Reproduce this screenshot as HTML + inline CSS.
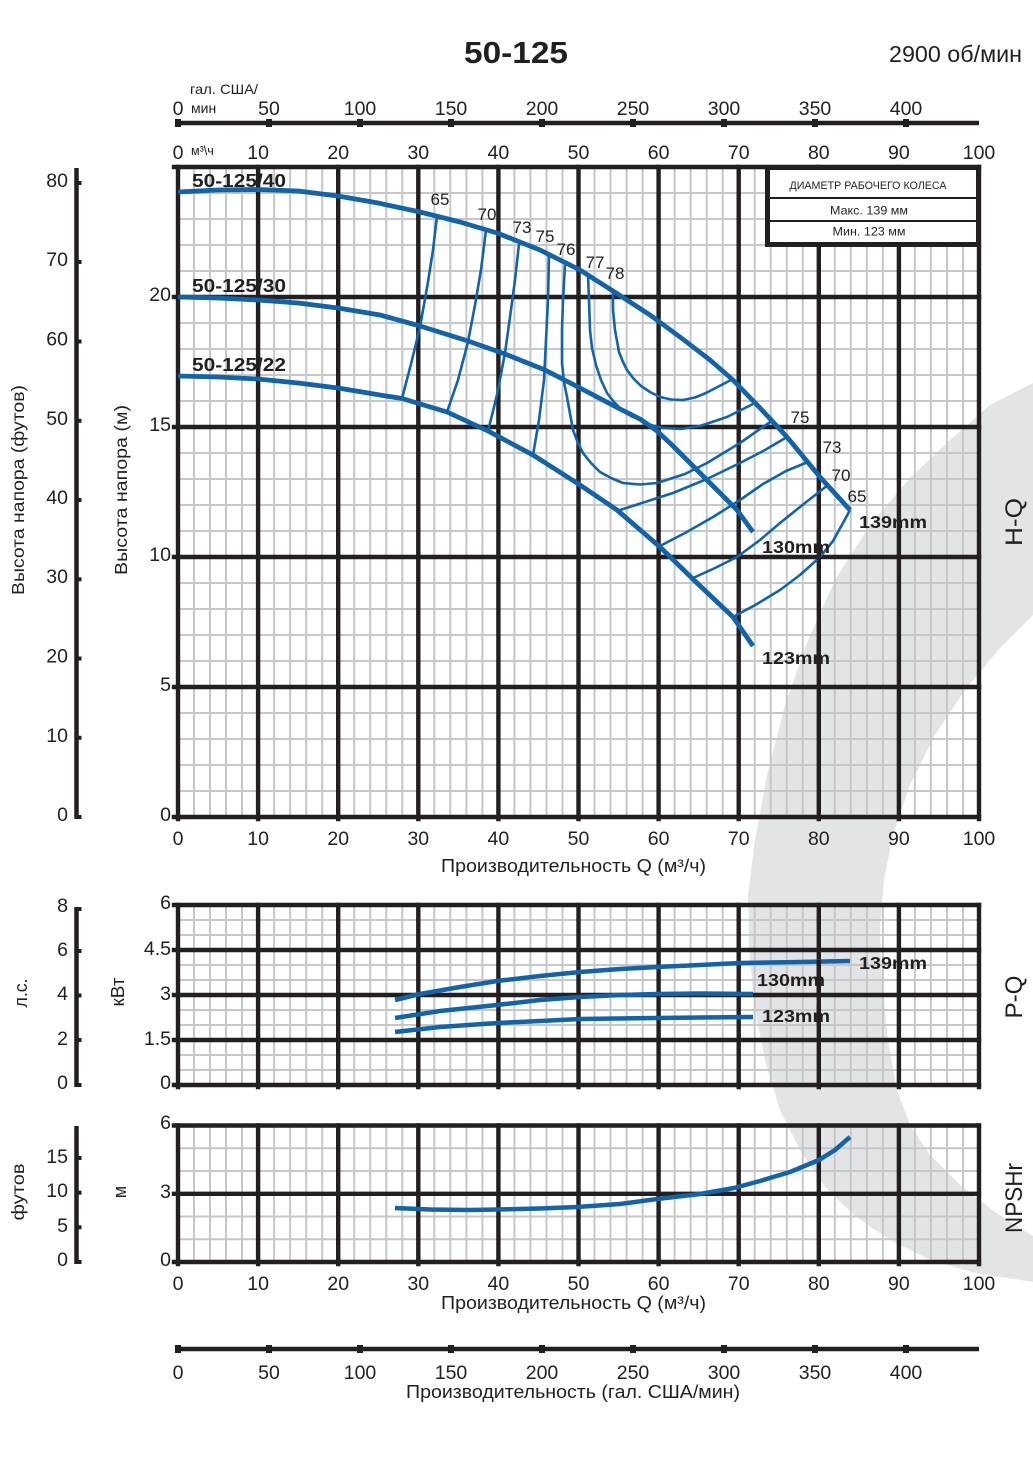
<!DOCTYPE html>
<html><head><meta charset="utf-8">
<style>
html,body{margin:0;padding:0;background:#fff}
svg{display:block}
text{font-family:"Liberation Sans","DejaVu Sans",sans-serif;fill:#231f20}
</style></head>
<body>
<svg width="1033" height="1461" viewBox="0 0 1033 1461" xmlns="http://www.w3.org/2000/svg">
<rect width="1033" height="1461" fill="#fff"/>

<!-- watermark crescent -->
<path fill="#e3e4e6" d="M1033 383 L990 405 L950 440 L910 478 L870 525 L835 580 L808 640 L785 705 L767 775 L755 840 L748 895 L749 950 L755 1010 L765 1060 L780 1110 L800 1150 L825 1187 L855 1216 L890 1240 L930 1260 L975 1273 L1033 1282 L1033 1236 L995 1212 L960 1185 L930 1155 L910 1125 L897 1090 L888 1040 L882 980 L880 930 L884 880 L893 835 L910 785 L935 735 L965 690 L1000 648 L1033 615 Z"/>

<!-- ===== minor grids ===== -->
<g stroke="#c6c7c8" stroke-width="2" fill="none">
<path d="M194 167v650M210 167v650M226 167v650M242 167v650M274.1 167v650M290.1 167v650M306.2 167v650M322.2 167v650M354.2 167v650M370.2 167v650M386.3 167v650M402.3 167v650M434.3 167v650M450.3 167v650M466.4 167v650M482.4 167v650M514.4 167v650M530.4 167v650M546.5 167v650M562.5 167v650M594.5 167v650M610.5 167v650M626.6 167v650M642.6 167v650M674.6 167v650M690.6 167v650M706.7 167v650M722.7 167v650M754.7 167v650M770.7 167v650M786.8 167v650M802.8 167v650M834.8 167v650M850.8 167v650M866.9 167v650M882.9 167v650M914.9 167v650M930.9 167v650M947 167v650M963 167v650"/>
<path d="M178 791h801M178 765h801M178 739h801M178 713h801M178 661h801M178 635h801M178 609h801M178 583h801M178 531h801M178 505h801M178 479h801M178 453h801M178 401h801M178 375h801M178 349h801M178 323h801M178 271h801M178 245h801M178 219h801M178 193h801"/>
<path d="M194 905v180M210 905v180M226 905v180M242 905v180M274.1 905v180M290.1 905v180M306.2 905v180M322.2 905v180M354.2 905v180M370.2 905v180M386.3 905v180M402.3 905v180M434.3 905v180M450.3 905v180M466.4 905v180M482.4 905v180M514.4 905v180M530.4 905v180M546.5 905v180M562.5 905v180M594.5 905v180M610.5 905v180M626.6 905v180M642.6 905v180M674.6 905v180M690.6 905v180M706.7 905v180M722.7 905v180M754.7 905v180M770.7 905v180M786.8 905v180M802.8 905v180M834.8 905v180M850.8 905v180M866.9 905v180M882.9 905v180M914.9 905v180M930.9 905v180M947 905v180M963 905v180"/>
<path d="M178 920h801M178 935h801M178 965h801M178 980h801M178 1010h801M178 1025h801M178 1055h801M178 1070h801"/>
<path d="M194 1125.5v136.5M210 1125.5v136.5M226 1125.5v136.5M242 1125.5v136.5M274.1 1125.5v136.5M290.1 1125.5v136.5M306.2 1125.5v136.5M322.2 1125.5v136.5M354.2 1125.5v136.5M370.2 1125.5v136.5M386.3 1125.5v136.5M402.3 1125.5v136.5M434.3 1125.5v136.5M450.3 1125.5v136.5M466.4 1125.5v136.5M482.4 1125.5v136.5M514.4 1125.5v136.5M530.4 1125.5v136.5M546.5 1125.5v136.5M562.5 1125.5v136.5M594.5 1125.5v136.5M610.5 1125.5v136.5M626.6 1125.5v136.5M642.6 1125.5v136.5M674.6 1125.5v136.5M690.6 1125.5v136.5M706.7 1125.5v136.5M722.7 1125.5v136.5M754.7 1125.5v136.5M770.7 1125.5v136.5M786.8 1125.5v136.5M802.8 1125.5v136.5M834.8 1125.5v136.5M850.8 1125.5v136.5M866.9 1125.5v136.5M882.9 1125.5v136.5M914.9 1125.5v136.5M930.9 1125.5v136.5M947 1125.5v136.5M963 1125.5v136.5"/>
<path d="M178 1148.3h801M178 1171h801M178 1216.5h801M178 1239.3h801"/>
</g>

<!-- ===== major grids ===== -->
<g stroke="#231f20" stroke-width="4.4" fill="none" stroke-linecap="square">
<path d="M178 167V819M258.1 167V819M338.2 167V819M418.3 167V819M498.4 167V819M578.5 167V819M658.6 167V819M738.7 167V819M818.8 167V819M898.9 167V819M979 167V819"/>
<path d="M174 167H979M174 297H979M174 427H979M174 557H979M174 687H979M174 817H979"/>
<path d="M178 905V1087M258.1 905V1087M338.2 905V1087M418.3 905V1087M498.4 905V1087M578.5 905V1087M658.6 905V1087M738.7 905V1087M818.8 905V1087M898.9 905V1087M979 905V1087"/>
<path d="M174 905H979M174 950H979M174 995H979M174 1040H979M174 1085H979"/>
<path d="M178 1125.5V1264M258.1 1125.5V1264M338.2 1125.5V1264M418.3 1125.5V1264M498.4 1125.5V1264M578.5 1125.5V1264M658.6 1125.5V1264M738.7 1125.5V1264M818.8 1125.5V1264M898.9 1125.5V1264M979 1125.5V1264"/>
<path d="M174 1125.5H979M174 1193.8H979M174 1262H979"/>
</g>

<!-- left axes (feet, hp, feet) -->
<g stroke="#231f20" stroke-width="4.5" fill="none">
<path d="M76.5 168V819M76.5 907V1087M76.5 1126V1264"/>
</g>
<g fill="#231f20">
<rect x="76" y="181" width="5.5" height="4"/><rect x="76" y="260" width="5.5" height="4"/><rect x="76" y="339.5" width="5.5" height="4"/><rect x="76" y="418.8" width="5.5" height="4"/><rect x="76" y="498" width="5.5" height="4"/><rect x="76" y="577.3" width="5.5" height="4"/><rect x="76" y="656.5" width="5.5" height="4"/><rect x="76" y="735.8" width="5.5" height="4"/><rect x="76" y="815" width="5.5" height="4"/>
<rect x="76" y="907" width="5.5" height="4"/><rect x="76" y="949" width="5.5" height="4"/><rect x="76" y="993.5" width="5.5" height="4"/><rect x="76" y="1038" width="5.5" height="4"/><rect x="76" y="1083" width="5.5" height="4"/>
<rect x="76" y="1156" width="5.5" height="4"/><rect x="76" y="1190.7" width="5.5" height="4"/><rect x="76" y="1225.3" width="5.5" height="4"/><rect x="76" y="1260" width="5.5" height="4"/>
</g>

<!-- gallon axes -->
<g stroke="#231f20" stroke-width="4.4"><path d="M176 123H979M176 1349H979"/></g>
<g fill="#231f20">
<rect x="175" y="119" width="6" height="8"/><rect x="266" y="119" width="6" height="8"/><rect x="357" y="119" width="6" height="8"/><rect x="448" y="119" width="6" height="8"/><rect x="539" y="119" width="6" height="8"/><rect x="630" y="119" width="6" height="8"/><rect x="721" y="119" width="6" height="8"/><rect x="812" y="119" width="6" height="8"/><rect x="903" y="119" width="6" height="8"/>
<rect x="175" y="1345" width="6" height="8"/><rect x="266" y="1345" width="6" height="8"/><rect x="357" y="1345" width="6" height="8"/><rect x="448" y="1345" width="6" height="8"/><rect x="539" y="1345" width="6" height="8"/><rect x="630" y="1345" width="6" height="8"/><rect x="721" y="1345" width="6" height="8"/><rect x="812" y="1345" width="6" height="8"/><rect x="903" y="1345" width="6" height="8"/>
</g>

<!-- ===== H-Q curves ===== -->
<g fill="none" stroke="#1263a8" stroke-linejoin="round">
<g stroke-width="2.6">
<path d="M437 216 L433 250 L428 282 L420 327 L411 364 L402 398.5"/>
<path d="M486 230 L481 270 L475 305 L468 342 L458 380 L447 412"/>
<path d="M519 244 L515 280 L510 317 L505 353 L497 395 L488 431"/>
<path d="M549 256 L548 300 L546 340 L544 380 L539 420 L533 455"/>
<path d="M565 265 L563 300 L562 330 L562 363 L564 382 L567 397 L573 430 L578 443 L583 453 L591 463 L600 472 L611 478 L623 483 L640 484.5 L657 483 L685 474 L707 463 L740 443 L773 420"/>
<path d="M588 276 L589 300 L590 330 L592 348 L596 365 L601 380 L607 393 L614 402 L622 410 L631 416 L640 420 L651 425 L663 428 L681 429 L700 426 L727 417 L753 404"/>
<path d="M613 291 L613 310 L615 330 L619 352 L623 362 L627 370 L633 378 L641 386 L650 392 L660 397 L671 399.5 L683 400 L695 397.5 L706 393 L731 380"/>
<path d="M617 511 L645 502 L673 493 L707 479 L740 463 L765 450 L787 437"/>
<path d="M658 547 L685 533 L713 517 L740 500 L763 484 L786 471 L808 462"/>
<path d="M693 578 L715 568 L737 557 L760 540 L780 523 L805 503 L828 485"/>
<path d="M733 617 L757 604 L780 590 L800 575 L820 557 L833 541 L843 523 L850 510"/>
</g>
<g stroke-width="4.8">
<path d="M178 192 L218 190 L258 189.5 L298 191 L338 196 L378 203 L420 212 L460 222 L497 233 L540 250 L580 270 L613 291 L650 315 L680 337 L710 360 L733 380 L760 408 L787 437 L820 477 L850 510"/>
<path d="M178 297 L218 298 L258 300 L298 303 L338 308 L380 315 L420 326 L468 341 L505 354 L545 370 L580 388 L620 409 L640 419 L657 431 L672 445 L697 470 L717 490 L737 510 L753 532"/>
<path d="M178 376 L218 377 L258 379 L298 383 L338 388 L380 395 L402 398.5 L447 412 L488 431 L533 455 L580 485 L617 510 L660 547 L697 583 L733 617 L753 646"/>
</g>
</g>

<!-- P-Q curves -->
<g fill="none" stroke="#1263a8" stroke-width="4.5" stroke-linejoin="round">
<path d="M395 1000 L420 994 L460 987 L497 981 L540 976 L580 972 L620 969 L657 967 L700 965 L740 963 L800 962 L850 961"/>
<path d="M395 1018 L440 1011 L497 1005 L540 1000 L580 997 L620 995 L657 994 L700 993.5 L753 994"/>
<path d="M395 1032 L440 1027 L497 1023 L540 1021 L580 1019 L657 1018 L700 1017.5 L753 1017"/>
<!-- NPSH -->
<path d="M395 1208 L430 1209.5 L470 1210 L497 1209.5 L540 1208.5 L577 1207 L620 1204 L657 1199 L700 1194 L734 1188 L760 1181 L790 1172 L819 1160 L835 1150 L850 1137"/>
</g>

<!-- legend box -->
<rect x="767.5" y="167.5" width="211" height="77" fill="#fff" stroke="#231f20" stroke-width="5"/>
<path d="M770 198H976M770 221H976" stroke="#231f20" stroke-width="2"/>
<text x="868" y="189" text-anchor="middle" font-size="11" textLength="157" lengthAdjust="spacingAndGlyphs">ДИАМЕТР РАБОЧЕГО КОЛЕСА</text>
<text x="869" y="214.5" text-anchor="middle" font-size="12" textLength="78" lengthAdjust="spacingAndGlyphs">Макс. 139 мм</text>
<text x="869" y="235.5" text-anchor="middle" font-size="12" textLength="73" lengthAdjust="spacingAndGlyphs">Мин. 123 мм</text>

<!-- title -->
<text x="516" y="63" text-anchor="middle" font-size="31" font-weight="bold" textLength="104" lengthAdjust="spacingAndGlyphs">50-125</text>
<text x="889" y="62" font-size="23" textLength="133" lengthAdjust="spacingAndGlyphs">2900 об/мин</text>

<!-- top axis labels -->
<text x="190" y="94" font-size="14" textLength="68" lengthAdjust="spacingAndGlyphs">гал. США/</text>
<text x="191" y="113" font-size="14">мин</text>
<text x="191" y="155" font-size="12.5">м³\ч</text>
<g font-size="19.5" text-anchor="middle">
<text x="178" y="115">0</text><text x="269" y="115">50</text><text x="360" y="115">100</text><text x="451" y="115">150</text><text x="542" y="115">200</text><text x="633" y="115">250</text><text x="724" y="115">300</text><text x="815" y="115">350</text><text x="906" y="115">400</text>
<text x="178" y="159">0</text><text x="258.1" y="159">10</text><text x="338.2" y="159">20</text><text x="418.3" y="159">30</text><text x="498.4" y="159">40</text><text x="578.5" y="159">50</text><text x="658.6" y="159">60</text><text x="738.7" y="159">70</text><text x="818.8" y="159">80</text><text x="898.9" y="159">90</text><text x="979" y="159">100</text>
<text x="178" y="845">0</text><text x="258.1" y="845">10</text><text x="338.2" y="845">20</text><text x="418.3" y="845">30</text><text x="498.4" y="845">40</text><text x="578.5" y="845">50</text><text x="658.6" y="845">60</text><text x="738.7" y="845">70</text><text x="818.8" y="845">80</text><text x="898.9" y="845">90</text><text x="979" y="845">100</text>
<text x="178" y="1290">0</text><text x="258.1" y="1290">10</text><text x="338.2" y="1290">20</text><text x="418.3" y="1290">30</text><text x="498.4" y="1290">40</text><text x="578.5" y="1290">50</text><text x="658.6" y="1290">60</text><text x="738.7" y="1290">70</text><text x="818.8" y="1290">80</text><text x="898.9" y="1290">90</text><text x="979" y="1290">100</text>
<text x="178" y="1379">0</text><text x="269" y="1379">50</text><text x="360" y="1379">100</text><text x="451" y="1379">150</text><text x="542" y="1379">200</text><text x="633" y="1379">250</text><text x="724" y="1379">300</text><text x="815" y="1379">350</text><text x="906" y="1379">400</text>
</g>

<!-- left labels -->
<g font-size="19.5" text-anchor="end">
<text x="68" y="187">80</text><text x="68" y="266">70</text><text x="68" y="345.5">60</text><text x="68" y="425">50</text><text x="68" y="504">40</text><text x="68" y="583">30</text><text x="68" y="662.5">20</text><text x="68" y="742">10</text><text x="68" y="821">0</text>
<text x="171" y="301">20</text><text x="171" y="431">15</text><text x="171" y="561">10</text><text x="171" y="691">5</text><text x="171" y="821">0</text>
<text x="68" y="912">8</text><text x="68" y="956">6</text><text x="68" y="1000">4</text><text x="68" y="1045">2</text><text x="68" y="1089">0</text>
<text x="171" y="909">6</text><text x="171" y="955">4.5</text><text x="171" y="1000">3</text><text x="171" y="1045">1.5</text><text x="171" y="1089">0</text>
<text x="68" y="1163">15</text><text x="68" y="1197">10</text><text x="68" y="1232">5</text><text x="68" y="1266">0</text>
<text x="171" y="1129">6</text><text x="171" y="1198">3</text><text x="171" y="1266">0</text>
</g>

<!-- rotated axis titles -->
<text transform="translate(24,490) rotate(-90)" text-anchor="middle" font-size="17.5" textLength="210" lengthAdjust="spacingAndGlyphs">Высота напора (футов)</text>
<text transform="translate(127,490) rotate(-90)" text-anchor="middle" font-size="17.5" textLength="170" lengthAdjust="spacingAndGlyphs">Высота напора (м)</text>
<text transform="translate(27,993) rotate(-90)" text-anchor="middle" font-size="18" textLength="29" lengthAdjust="spacingAndGlyphs">л.с.</text>
<text transform="translate(124,992) rotate(-90)" text-anchor="middle" font-size="18" textLength="29" lengthAdjust="spacingAndGlyphs">кВт</text>
<text transform="translate(24,1192) rotate(-90)" text-anchor="middle" font-size="17.5" textLength="57" lengthAdjust="spacingAndGlyphs">футов</text>
<text transform="translate(126,1192) rotate(-90)" text-anchor="middle" font-size="18">м</text>
<text transform="translate(1022,522) rotate(-90)" text-anchor="middle" font-size="24" textLength="48" lengthAdjust="spacingAndGlyphs">H-Q</text>
<text transform="translate(1022,997) rotate(-90)" text-anchor="middle" font-size="24" textLength="43" lengthAdjust="spacingAndGlyphs">P-Q</text>
<text transform="translate(1022,1198) rotate(-90)" text-anchor="middle" font-size="24" textLength="70" lengthAdjust="spacingAndGlyphs">NPSHr</text>

<!-- bottom titles -->
<text x="573.5" y="872" text-anchor="middle" font-size="18" textLength="265" lengthAdjust="spacingAndGlyphs">Производительность Q (м³/ч)</text>
<text x="573.5" y="1309" text-anchor="middle" font-size="18" textLength="265" lengthAdjust="spacingAndGlyphs">Производительность Q (м³/ч)</text>
<text x="573" y="1398" text-anchor="middle" font-size="18" textLength="334" lengthAdjust="spacingAndGlyphs">Производительность (гал. США/мин)</text>

<!-- curve labels -->
<g font-size="18.5" font-weight="bold">
<text x="192" y="187" textLength="94" lengthAdjust="spacingAndGlyphs">50-125/40</text>
<text x="192" y="292" textLength="94" lengthAdjust="spacingAndGlyphs">50-125/30</text>
<text x="192" y="371" textLength="94" lengthAdjust="spacingAndGlyphs">50-125/22</text>
</g>
<g font-size="17.5" font-weight="bold">
<text x="859" y="528" textLength="68" lengthAdjust="spacingAndGlyphs">139mm</text>
<text x="762" y="553" textLength="68" lengthAdjust="spacingAndGlyphs">130mm</text>
<text x="762" y="664" textLength="68" lengthAdjust="spacingAndGlyphs">123mm</text>
<text x="859" y="969" textLength="68" lengthAdjust="spacingAndGlyphs">139mm</text>
<text x="757" y="986" textLength="68" lengthAdjust="spacingAndGlyphs">130mm</text>
<text x="762" y="1022" textLength="68" lengthAdjust="spacingAndGlyphs">123mm</text>
</g>
<g font-size="17" text-anchor="middle">
<text x="440" y="205">65</text><text x="487" y="220">70</text><text x="522" y="233">73</text><text x="545" y="242">75</text><text x="566" y="255">76</text><text x="595" y="268">77</text><text x="615" y="279">78</text>
<text x="800" y="423">75</text><text x="832" y="453">73</text><text x="841" y="481">70</text><text x="857" y="502">65</text>
</g>

<!-- redraw 80-line over labels like reference -->
<g stroke="#231f20" stroke-width="4.4"><path d="M818.8 530V560M818.8 640V670M818.8 960V995M818.8 1005V1025"/></g>
</svg>
</body></html>
